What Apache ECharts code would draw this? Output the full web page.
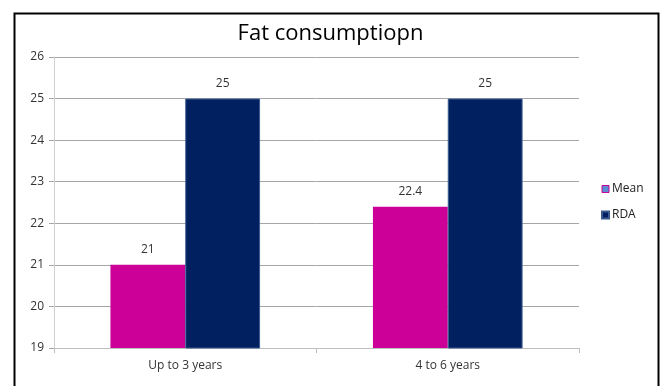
<!DOCTYPE html>
<html>
<head>
<meta charset="utf-8">
<script src="https://cdn.jsdelivr.net/npm/echarts@6/dist/echarts.min.js"></script>
<style>html,body{margin:0;padding:0;background:#fff;}#c{width:661px;height:386px;}</style>
</head>
<body>
<div id="c"></div>
<script>
const categories = ["Up to 3 years", "4 to 6 years"];
const meanValues = [21, 22.4];
const rdaValues = [25, 25];
const seriesNames = ["Mean", "RDA"];
const yTicks = [19, 20, 21, 22, 23, 24, 25, 26];

const chart = echarts.init(document.getElementById('c'));
const font = "'Open Sans', 'Noto Sans', sans-serif";
chart.setOption({
  animation: false,
  title: {
    text: "Fat consumptiopn",
    left: 'center', top: 18,
    textStyle: { fontFamily: font, fontSize: 22, fontWeight: 'normal', color: '#000' }
  },
  legend: {
    orient: 'vertical', left: 596, top: 178,
    itemWidth: 7, itemHeight: 7, itemGap: 14,
    icon: 'rect',
    textStyle: { fontFamily: font, fontSize: 12, color: '#222', padding: [0,0,0,-2] },
    data: [
      { name: seriesNames[0], itemStyle: { color: '#5B8BD0', borderColor: '#CC0099', borderWidth: 1 } },
      { name: seriesNames[1], itemStyle: { color: '#002060' } }
    ]
  },
  grid: { left: 54, right: 82, top: 57, bottom: 38 },
  xAxis: {
    type: 'category', data: categories,
    axisLine: { lineStyle: { color: '#BFBFBF' } },
    axisTick: { show: true, length: 5, lineStyle: { color: '#BFBFBF' } },
    axisLabel: { fontFamily: font, fontSize: 12, color: '#333', margin: 12 }
  },
  yAxis: {
    type: 'value', min: yTicks[0], max: yTicks[yTicks.length - 1], interval: 1,
    axisLine: { show: true, lineStyle: { color: '#D0D0D0' } },
    axisTick: { show: true, length: 5, lineStyle: { color: '#A6A6A6' } },
    axisLabel: { fontFamily: font, fontSize: 12, color: '#333', margin: 10 },
    splitLine: { lineStyle: { color: '#A6A6A6' } }
  },
  series: [
    {
      name: seriesNames[0], type: 'bar', data: meanValues,
      barGap: '0%', barCategoryGap: '43%',
      itemStyle: { color: '#CC0099' },
      label: { show: true, position: 'top', distance: 9, fontFamily: font, fontSize: 12, color: '#333' }
    },
    {
      name: seriesNames[1], type: 'bar', data: rdaValues,
      barGap: '0%', barCategoryGap: '43%',
      itemStyle: { color: '#002060', borderColor: '#3A5A8F', borderWidth: 1 },
      label: { show: true, position: 'top', distance: 9, fontFamily: font, fontSize: 12, color: '#333' }
    }
  ],
  graphic: [{
    type: 'rect', left: 12, top: 11, z: 100,
    shape: { width: 644, height: 400 },
    style: { fill: 'none', stroke: '#000', lineWidth: 2 }
  }]
});
</script>
</body>
</html>
